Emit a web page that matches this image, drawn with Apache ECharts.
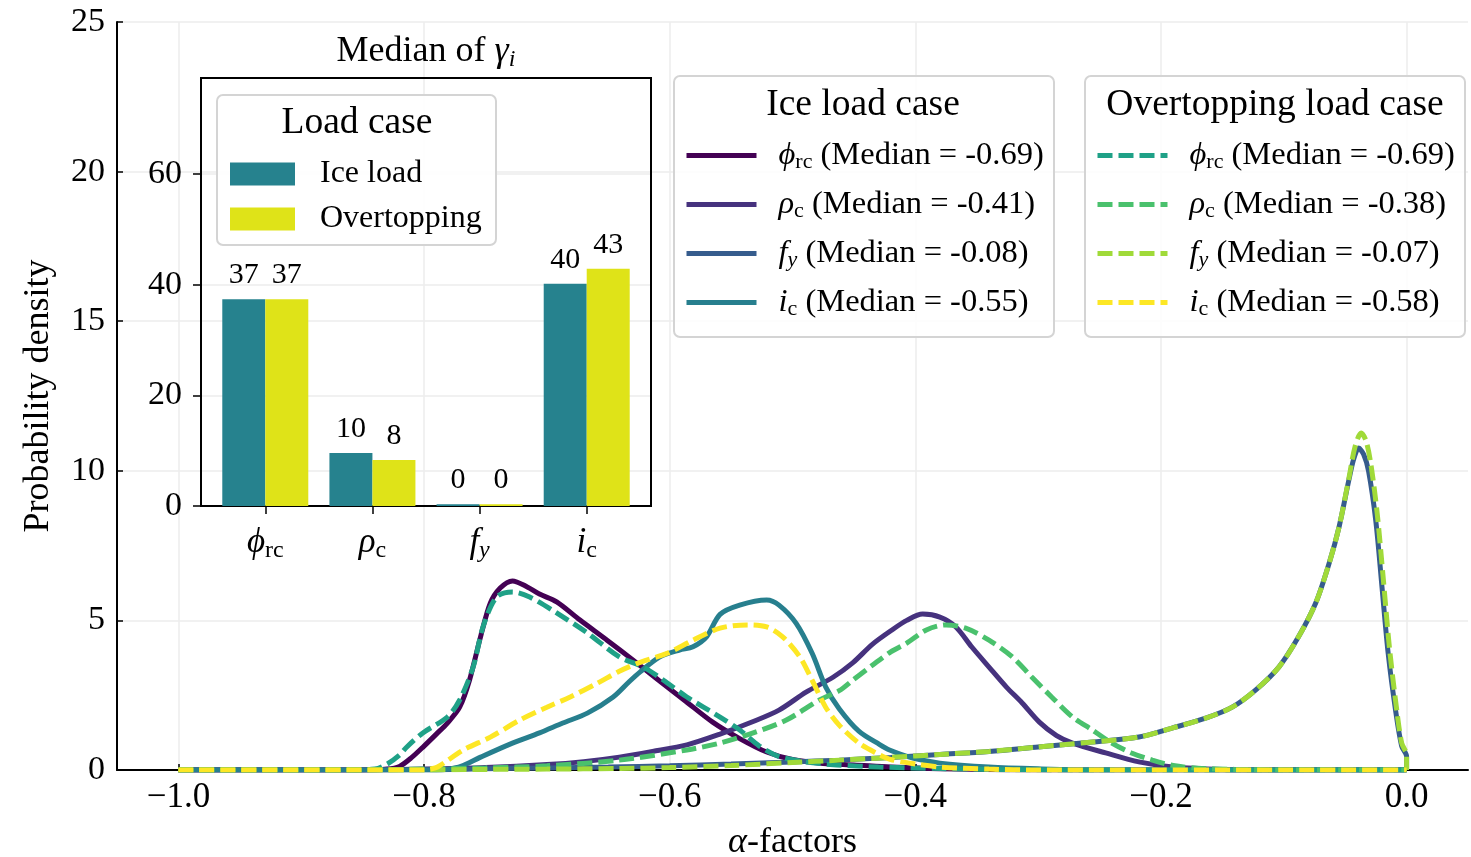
<!DOCTYPE html>
<html><head><meta charset="utf-8">
<script src="https://cdn.jsdelivr.net/npm/echarts@6/dist/echarts.min.js"></script>
<style>html,body{margin:0;padding:0;background:#fff}#c{width:1471px;height:857px}</style>
</head><body><div id="c"></div>
<script>
const FONT = '"Liberation Serif", "Times New Roman", serif';

// ---- main chart data: KDE curves [alpha, density] ----
const xTicks = [-1.0, -0.8, -0.6, -0.4, -0.2, 0.0];
const phiIce = [[-1.0,0],[-0.85,0],[-0.83,0.03],[-0.82,0.12],[-0.81,0.42],[-0.80,0.8],[-0.79,1.2],[-0.781,1.57],[-0.771,2.1],[-0.763,3.0],[-0.754,4.45],[-0.746,5.58],[-0.738,6.08],[-0.728,6.32],[-0.716,6.12],[-0.706,5.88],[-0.692,5.62],[-0.673,5.01],[-0.651,4.34],[-0.630,3.68],[-0.609,3.0],[-0.587,2.3],[-0.565,1.6],[-0.543,1.05],[-0.521,0.6],[-0.500,0.35],[-0.475,0.22],[-0.45,0.17],[-0.42,0.1],[-0.38,0.04],[-0.33,0.01],[-0.25,0],[0,0]];
const rhoIce = [[-1.0,0],[-0.86,0],[-0.8,0.03],[-0.75,0.08],[-0.7,0.18],[-0.67,0.28],[-0.641,0.43],[-0.614,0.62],[-0.586,0.84],[-0.559,1.2],[-0.532,1.62],[-0.511,2.0],[-0.489,2.6],[-0.467,3.1],[-0.451,3.58],[-0.435,4.2],[-0.419,4.68],[-0.407,5.0],[-0.394,5.21],[-0.380,5.11],[-0.367,4.78],[-0.354,4.11],[-0.340,3.44],[-0.326,2.78],[-0.313,2.24],[-0.299,1.6],[-0.285,1.15],[-0.272,0.9],[-0.245,0.57],[-0.218,0.27],[-0.19,0.1],[-0.15,0.02],[-0.1,0],[0,0]];
const fyIce = [[-1.0,0],[-0.8,0.01],[-0.75,0.04],[-0.7,0.07],[-0.65,0.1],[-0.6,0.14],[-0.55,0.2],[-0.5,0.27],[-0.462,0.33],[-0.42,0.42],[-0.38,0.52],[-0.34,0.62],[-0.3,0.77],[-0.26,0.92],[-0.218,1.1],[-0.191,1.4],[-0.163,1.74],[-0.142,2.1],[-0.123,2.67],[-0.104,3.44],[-0.088,4.45],[-0.074,5.58],[-0.063,6.92],[-0.055,8.12],[-0.047,9.69],[-0.043,10.4],[-0.039,10.76],[-0.035,10.55],[-0.031,10.0],[-0.025,8.3],[-0.020,6.1],[-0.015,3.9],[-0.009,2.0],[-0.004,0.8],[0,0.45],[0,0]];
const icIce = [[-1.0,0],[-0.79,0],[-0.78,0.03],[-0.77,0.12],[-0.754,0.43],[-0.728,0.9],[-0.706,1.24],[-0.687,1.57],[-0.667,1.9],[-0.646,2.44],[-0.633,2.95],[-0.624,3.28],[-0.608,3.78],[-0.592,4.01],[-0.581,4.12],[-0.570,4.45],[-0.559,5.2],[-0.543,5.51],[-0.521,5.68],[-0.511,5.51],[-0.497,4.9],[-0.484,3.9],[-0.473,2.78],[-0.462,2.05],[-0.446,1.3],[-0.429,0.85],[-0.421,0.67],[-0.402,0.4],[-0.38,0.23],[-0.34,0.1],[-0.3,0.04],[-0.25,0],[0,0]];
const phiOver = [[-1.0,0],[-0.86,0],[-0.84,0.03],[-0.83,0.2],[-0.82,0.5],[-0.814,0.77],[-0.801,1.24],[-0.781,1.77],[-0.771,2.34],[-0.760,3.44],[-0.752,4.78],[-0.741,5.78],[-0.728,5.95],[-0.714,5.78],[-0.692,5.25],[-0.667,4.58],[-0.641,3.78],[-0.622,3.45],[-0.605,3.0],[-0.586,2.44],[-0.559,1.77],[-0.543,1.34],[-0.527,0.8],[-0.511,0.45],[-0.489,0.27],[-0.464,0.17],[-0.43,0.1],[-0.38,0.05],[-0.32,0.01],[-0.25,0],[0,0]];
const rhoOver = [[-1.0,0],[-0.86,0],[-0.8,0.03],[-0.75,0.07],[-0.7,0.14],[-0.641,0.33],[-0.586,0.67],[-0.559,0.9],[-0.532,1.24],[-0.505,1.67],[-0.478,2.34],[-0.462,2.65],[-0.451,3.0],[-0.435,3.5],[-0.42,3.95],[-0.407,4.24],[-0.391,4.68],[-0.375,4.85],[-0.359,4.74],[-0.340,4.34],[-0.321,3.78],[-0.305,3.1],[-0.289,2.44],[-0.272,1.77],[-0.256,1.34],[-0.240,0.9],[-0.224,0.57],[-0.207,0.33],[-0.19,0.15],[-0.17,0.06],[-0.14,0.02],[-0.1,0],[0,0]];
const fyOver = [[-1.0,0],[-0.8,0.0],[-0.75,0.02],[-0.7,0.03],[-0.641,0.05],[-0.6,0.08],[-0.55,0.15],[-0.5,0.25],[-0.462,0.33],[-0.42,0.42],[-0.38,0.52],[-0.34,0.62],[-0.3,0.77],[-0.26,0.92],[-0.218,1.1],[-0.191,1.4],[-0.163,1.74],[-0.142,2.1],[-0.123,2.67],[-0.104,3.44],[-0.088,4.45],[-0.074,5.58],[-0.063,6.92],[-0.055,8.12],[-0.047,9.75],[-0.042,10.8],[-0.037,11.26],[-0.033,11.0],[-0.029,10.2],[-0.024,8.6],[-0.019,6.4],[-0.014,4.1],[-0.008,2.0],[-0.004,0.9],[0,0.5],[0,0]];
const icOver = [[-1.0,0],[-0.80,0],[-0.795,0.03],[-0.789,0.1],[-0.768,0.67],[-0.746,1.1],[-0.722,1.67],[-0.700,2.1],[-0.681,2.44],[-0.659,2.9],[-0.641,3.3],[-0.624,3.6],[-0.602,3.9],[-0.581,4.34],[-0.559,4.74],[-0.537,4.85],[-0.521,4.78],[-0.508,4.45],[-0.494,3.78],[-0.484,3.0],[-0.473,2.1],[-0.462,1.5],[-0.446,0.9],[-0.432,0.57],[-0.42,0.35],[-0.40,0.2],[-0.38,0.1],[-0.34,0.03],[-0.3,0],[0,0]];

const iceMedians = [-0.69, -0.41, -0.08, -0.55];
const overMedians = [-0.69, -0.38, -0.07, -0.58];
const iceColors = ['#440154', '#46327e', '#365c8d', '#277f8e'];
const overColors = ['#1fa187', '#4ac16d', '#a0da39', '#fde725'];

// ---- inset bar chart data: median of gamma_i ----
const barCategories = ['{g|ϕ}{s|rc}', '{g|ρ}{s|c}', '{g|f}{si|y}', '{g|i}{s|c}'];
const barIce = [37.4, 9.6, 0.3, 40.2];
const barOver = [37.4, 8.3, 0.3, 42.9];

const symLabels = ['{sp| }{g|ϕ}{s|rc}', '{sp| }{g|ρ}{s|c}', '{sp| }{g|f}{si|y}', '{sp| }{g|i}{s|c}'];
const iceNames = ['phi_ice', 'rho_ice', 'fy_ice', 'ic_ice'];
const overNames = ['phi_over', 'rho_over', 'fy_over', 'ic_over'];
const iceCurves = [phiIce, rhoIce, fyIce, icIce];
const overCurves = [phiOver, rhoOver, fyOver, icOver];

const labelMap = {};
iceNames.forEach((n, i) => labelMap[n] = symLabels[i] + '{t| (Median = ' + iceMedians[i].toFixed(2) + ')}');
overNames.forEach((n, i) => labelMap[n] = symLabels[i] + '{t| (Median = ' + overMedians[i].toFixed(2) + ')}');

const legRich = {
  sp: { width: 17, fontSize: 10 },
  g: { fontFamily: FONT, fontStyle: 'italic', fontSize: 32.5, color: '#000' },
  s: { fontFamily: FONT, fontSize: 22, color: '#000', padding: [14, 0, 0, 0] },
  si: { fontFamily: FONT, fontStyle: 'italic', fontSize: 22, color: '#000', padding: [14, 0, 0, 0] },
  t: { fontFamily: FONT, fontSize: 32.5, color: '#000' }
};
const axRich = {
  g: { fontFamily: FONT, fontStyle: 'italic', fontSize: 35, color: '#000' },
  s: { fontFamily: FONT, fontSize: 24, color: '#000', padding: [16, 0, 0, 0] },
  si: { fontFamily: FONT, fontStyle: 'italic', fontSize: 24, color: '#000', padding: [16, 0, 0, 0] }
};

const fmtTick = v => (v < -1e-9 ? '\u2212' : '') + Math.abs(v).toFixed(1);

const series = [];
iceCurves.forEach((d, i) => series.push({
  name: iceNames[i], type: 'line', xAxisIndex: 0, yAxisIndex: 0, data: d,
  symbol: 'none', smooth: 0.3, z: 2,
  lineStyle: { width: 5, color: iceColors[i], type: 'solid' }, itemStyle: { color: iceColors[i] }
}));
overCurves.forEach((d, i) => series.push({
  name: overNames[i], type: 'line', xAxisIndex: 0, yAxisIndex: 0, data: d,
  symbol: 'none', smooth: 0.3, z: 3,
  lineStyle: { width: 5, color: overColors[i], type: [15, 6] }, itemStyle: { color: overColors[i] }
}));
const barLabel = {
  show: true, position: 'top', distance: 9, color: '#000', fontFamily: FONT, fontSize: 30,
  formatter: p => Math.round(p.value[1])
};
series.push({
  name: 'Ice load', type: 'bar', xAxisIndex: 1, yAxisIndex: 1, barWidth: 43, barGap: '0%',
  data: barIce.map((v, i) => [i, v]), itemStyle: { color: '#26828e' }, label: barLabel, z: 5
});
series.push({
  name: 'Overtopping', type: 'bar', xAxisIndex: 1, yAxisIndex: 1, barWidth: 43, barGap: '0%',
  data: barOver.map((v, i) => [i, v]), itemStyle: { color: '#dfe318' }, label: barLabel, z: 5
});

const hiddenSym = { color: 'rgba(0,0,0,0)', borderColor: 'rgba(0,0,0,0)', borderWidth: 0 };
const TITLE_FONT = '37.5px ' + FONT;

const chart = echarts.init(document.getElementById('c'), null, { renderer: 'canvas' });
chart.setOption({
  animation: false,
  backgroundColor: '#fff',
  textStyle: { fontFamily: FONT },
  grid: [
    { left: 117, right: 3, top: 22, bottom: 87, outerBoundsMode: 'none', containLabel: false },
    { left: 201, top: 78, width: 450, height: 428, show: true, borderColor: '#000', borderWidth: 2, backgroundColor: 'rgba(0,0,0,0)', z: 4, outerBoundsMode: 'none', containLabel: false }
  ],
  xAxis: [
    {
      type: 'value', gridIndex: 0, min: -1.05, max: 0.05,
      name: '{g|α}{t|-factors}', nameLocation: 'middle', nameGap: 55,
      nameTextStyle: { rich: { g: { fontFamily: FONT, fontStyle: 'italic', fontSize: 36, color: '#000' }, t: { fontFamily: FONT, fontSize: 36, color: '#000' } } },
      axisLine: { onZero: false, lineStyle: { color: '#000', width: 2 } },
      axisTick: { inside: true, length: 6, customValues: xTicks, lineStyle: { color: '#000', width: 1.5 } },
      axisLabel: { customValues: xTicks, formatter: fmtTick, fontFamily: FONT, fontSize: 35, color: '#000', margin: 10 },
      splitLine: { show: true, customValues: xTicks, lineStyle: { color: '#ececec', width: 1.5 } }
    },
    {
      type: 'value', gridIndex: 1, min: -0.6, max: 3.6,
      axisLine: { onZero: false, lineStyle: { color: '#000', width: 2 } },
      axisTick: { inside: false, length: 8, customValues: [0, 1, 2, 3], lineStyle: { color: '#000', width: 1.5 } },
      axisLabel: { customValues: [0, 1, 2, 3], formatter: v => barCategories[Math.round(v)], rich: axRich, margin: 17 },
      splitLine: { show: false }
    }
  ],
  yAxis: [
    {
      type: 'value', gridIndex: 0, min: 0, max: 25, interval: 5,
      name: 'Probability density', nameLocation: 'middle', nameGap: 60,
      nameTextStyle: { fontFamily: FONT, fontSize: 36, color: '#000' },
      axisLine: { show: true, onZero: false, lineStyle: { color: '#000', width: 2 } },
      axisTick: { show: true, inside: true, length: 6, lineStyle: { color: '#000', width: 1.5 } },
      axisLabel: { fontFamily: FONT, fontSize: 34, color: '#000', margin: 12 },
      splitLine: { show: true, lineStyle: { color: '#ececec', width: 1.5 } }
    },
    {
      type: 'value', gridIndex: 1, min: 0, max: 77.4, interval: 20,
      axisLine: { show: true, onZero: false, lineStyle: { color: '#000', width: 2 } },
      axisTick: { show: true, inside: false, length: 8, lineStyle: { color: '#000', width: 1.5 } },
      axisLabel: { fontFamily: FONT, fontSize: 34, color: '#000', margin: 19, showMaxLabel: false },
      splitLine: { show: true, lineStyle: { color: '#ececec', width: 1.5 } }
    }
  ],
  legend: [
    {
      data: iceNames, orient: 'vertical', left: 679, top: 134, itemWidth: 70, itemHeight: 20, itemGap: 14.5,
      selectedMode: false, formatter: n => labelMap[n], lineStyle: { width: 'inherit' }, itemStyle: hiddenSym,
      textStyle: { fontFamily: FONT, fontSize: 32.5, color: '#000', rich: legRich }
    },
    {
      data: overNames, orient: 'vertical', left: 1090, top: 134, itemWidth: 70, itemHeight: 20, itemGap: 14.5,
      selectedMode: false, formatter: n => labelMap[n], lineStyle: { width: 'inherit' }, itemStyle: hiddenSym,
      textStyle: { fontFamily: FONT, fontSize: 32.5, color: '#000', rich: legRich }
    },
    {
      data: ['Ice load', 'Overtopping'], orient: 'vertical', left: 225, top: 153, itemWidth: 65, itemHeight: 23, itemGap: 13,
      icon: 'rect', selectedMode: false, z: 8,
      formatter: n => '{sp| }{t|' + n + '}',
      textStyle: { fontFamily: FONT, fontSize: 32, color: '#000', rich: { sp: { width: 20, fontSize: 10 }, t: { fontFamily: FONT, fontSize: 32, color: '#000' } } }
    }
  ],
  graphic: [
    { type: 'rect', z: 1, shape: { x: 674, y: 76, width: 380, height: 261, r: 6 }, style: { fill: 'rgba(255,255,255,0.85)', stroke: '#d4d4d4', lineWidth: 2 } },
    { type: 'rect', z: 1, shape: { x: 1085, y: 76, width: 380, height: 261, r: 6 }, style: { fill: 'rgba(255,255,255,0.85)', stroke: '#d4d4d4', lineWidth: 2 } },
    { type: 'rect', z: 3, shape: { x: 217, y: 95, width: 279, height: 150, r: 6 }, style: { fill: 'rgba(255,255,255,0.9)', stroke: '#d4d4d4', lineWidth: 2 } },
    { type: 'text', z: 10, x: 863, y: 105, style: { text: 'Ice load case', align: 'center', verticalAlign: 'middle', font: TITLE_FONT, fill: '#000' } },
    { type: 'text', z: 10, x: 1275, y: 105, style: { text: 'Overtopping load case', align: 'center', verticalAlign: 'middle', font: TITLE_FONT, fill: '#000' } },
    { type: 'text', z: 10, x: 357, y: 123, style: { text: 'Load case', align: 'center', verticalAlign: 'middle', font: TITLE_FONT, fill: '#000' } },
    { type: 'text', z: 10, x: 426, y: 52, style: {
      text: '{t|Median of }{g|γ}{si|i}', align: 'center', verticalAlign: 'middle',
      rich: {
        t: { fontFamily: FONT, fontSize: 36, fill: '#000' },
        g: { fontFamily: FONT, fontStyle: 'italic', fontSize: 36, fill: '#000' },
        si: { fontFamily: FONT, fontStyle: 'italic', fontSize: 24, fill: '#000', padding: [16, 0, 0, 0] }
      } } }
  ],
  series: series
});
</script>
</body></html>
